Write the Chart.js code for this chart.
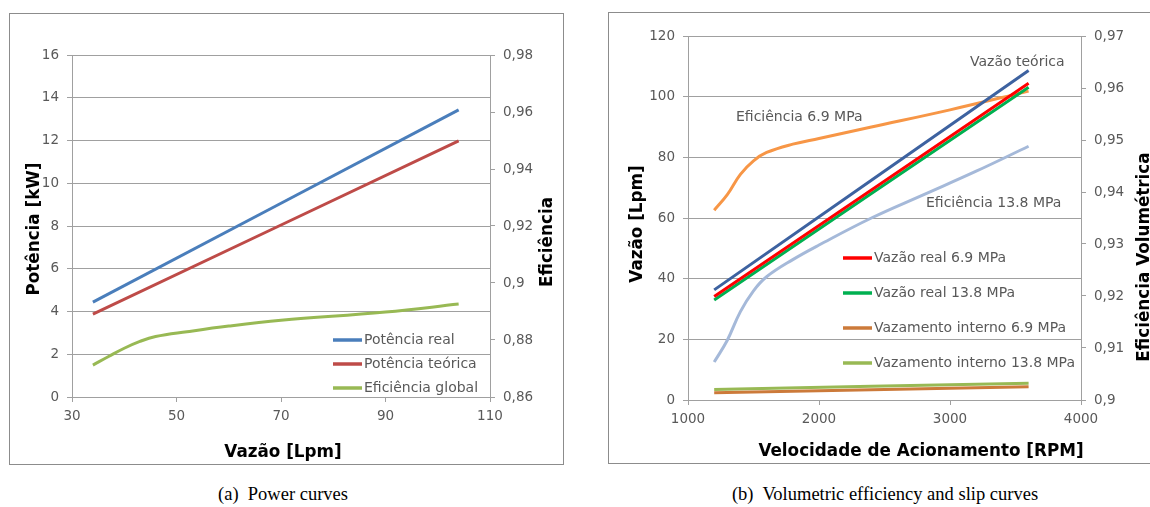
<!DOCTYPE html>
<html>
<head>
<meta charset="utf-8">
<script src="https://cdn.jsdelivr.net/npm/chart.js@4.4.0/dist/chart.umd.min.js"></script>
<style>
  body { margin: 0; width: 1150px; height: 507px; overflow: hidden; background: #fff; position: relative; }
  .box { position: absolute; border: 1px solid #8c8c8c; }
  canvas { position: absolute; }
  .cap { position: absolute; top: 484px; font-family: "Liberation Serif", serif; font-size: 18.5px; color: #000; white-space: nowrap; transform: translateX(-50%); }
</style>
</head>
<body>
<div class="box" style="left:9px;top:13px;width:553px;height:450px"></div>
<div class="box" style="left:608px;top:12px;width:600px;height:450px"></div>
<canvas id="ca" width="575" height="470" style="left:0;top:0"></canvas>
<canvas id="cb" width="570" height="470" style="left:580px;top:0"></canvas>
<div class="cap" style="left:283px">(a)&nbsp; Power curves</div>
<div class="cap" style="left:885px">(b)&nbsp; Volumetric efficiency and slip curves</div>
<script>
// ---- chart (a): power curves ----
const flowA = [34, 104];
const potReal = [4.44, 13.43];
const potTeorica = [3.88, 11.98];
const flowEff = [34, 37, 40, 43, 46, 52, 60, 70, 90, 104];
const efGlobal = [0.8712, 0.8742, 0.8771, 0.8795, 0.8812, 0.8829, 0.8849, 0.8869, 0.8898, 0.8926];
const xTicksA = [30, 50, 70, 90, 110];
const yTicksA = [0, 2, 4, 6, 8, 10, 12, 14, 16];
const y2TicksA = [0.86, 0.88, 0.9, 0.92, 0.94, 0.96, 0.98];

// ---- chart (b): volumetric efficiency and slip ----
const rpmLine = [1200, 3600];
const vazTeorica = [36.3, 108.6];
const vazReal69 = [34.1, 104.4];
const vazReal138 = [33.0, 103.1];
const vazInt69 = [2.4, 4.4];
const vazInt138 = [3.5, 5.5];
const rpmEf69 = [1200, 1300, 1400, 1500, 1600, 1800, 2000, 2400, 3000, 3600];
const ef69 = [0.9365, 0.9395, 0.9434, 0.9460, 0.9476, 0.9492, 0.9503, 0.9525, 0.9558, 0.9594];
const rpmEf138 = [1200, 1300, 1400, 1500, 1600, 1800, 2000, 2400, 2800, 3200, 3600];
const ef138 = [0.9073, 0.9115, 0.9170, 0.9210, 0.9237, 0.9270, 0.9298, 0.9350, 0.9395, 0.9440, 0.9488];
const xTicksB = [1000, 2000, 3000, 4000];
const yTicksB = [0, 20, 40, 60, 80, 100, 120];
const y2TicksB = [0.9, 0.91, 0.92, 0.93, 0.94, 0.95, 0.96, 0.97];

const pts = (xs, ys) => xs.map((x, i) => ({ x: x, y: ys[i] }));
const comma = v => parseFloat(v.toFixed(2)).toString().replace('.', ',');
const plain = v => String(v);

const tickFont = { family: 'DejaVu Sans', size: 13.5 };
const tickColor = '#595959';
const gridColor = '#a0a0a0';

function fixed(size, prop) {
  return function (scale) { scale[prop] = size; };
}
function useTicks(arr) {
  return function (scale) { scale.ticks = arr.map(v => ({ value: v })); };
}

// draws axis titles, in-plot legend entries and free text labels
const overlay = {
  id: 'overlay',
  afterDraw(chart, args, opts) {
    const ctx = chart.ctx;
    ctx.save();
    ctx.textBaseline = 'middle';
    (opts.titles || []).forEach(t => {
      ctx.save();
      ctx.translate(t.x, t.y);
      if (t.rot) ctx.rotate(-Math.PI / 2);
      ctx.font = 'bold 16.8px "DejaVu Sans"';
      ctx.fillStyle = '#000';
      ctx.textAlign = 'center';
      ctx.fillText(t.text, 0, 0);
      ctx.restore();
    });
    ctx.font = '14px "DejaVu Sans"';
    ctx.fillStyle = tickColor;
    ctx.textAlign = 'left';
    (opts.legend || []).forEach(l => {
      const ds = chart.data.datasets[l.ds];
      ctx.strokeStyle = ds.borderColor;
      ctx.lineWidth = 3.5;
      ctx.beginPath();
      ctx.moveTo(l.x, l.y);
      ctx.lineTo(l.x + 29, l.y);
      ctx.stroke();
      ctx.fillText(ds.label, l.x + 31, l.y);
    });
    (opts.labels || []).forEach(l => {
      ctx.fillText(l.text, l.x, l.y);
    });
    ctx.restore();
  }
};

const lineDs = (label, data, color, axis) => ({
  label: label, data: data, borderColor: color, backgroundColor: color,
  borderWidth: 3, pointRadius: 0, yAxisID: axis || 'y', tension: 0.4
});

new Chart(document.getElementById('ca'), {
  type: 'line',
  data: {
    datasets: [
      lineDs('Potência real', pts(flowA, potReal), '#4a7ebb'),
      lineDs('Potência teórica', pts(flowA, potTeorica), '#be4b48'),
      lineDs('Eficiência global', pts(flowEff, efGlobal), '#98b954', 'y1')
    ]
  },
  options: {
    responsive: false, animation: false,
    layout: { padding: { top: 55, left: 0, right: 0, bottom: 0 } },
    plugins: {
      legend: { display: false }, tooltip: { enabled: false },
      overlay: {
        titles: [
          { text: 'Potência [kW]', x: 35, y: 229, rot: true },
          { text: 'Eficiência', x: 548, y: 242, rot: true },
          { text: 'Vazão [Lpm]', x: 283, y: 453 }
        ],
        legend: [
          { ds: 0, x: 333, y: 340 },
          { ds: 1, x: 333, y: 364 },
          { ds: 2, x: 333, y: 388 }
        ]
      }
    },
    scales: {
      x: {
        type: 'linear', min: 30, max: 110,
        afterFit: fixed(73, 'height'), afterBuildTicks: useTicks(xTicksA),
        grid: { drawOnChartArea: false, color: gridColor, tickLength: 5 },
        border: { color: gridColor },
        ticks: { font: tickFont, color: tickColor, padding: 6, maxRotation: 0, callback: plain }
      },
      y: {
        position: 'left', min: 0, max: 16,
        afterFit: fixed(72, 'width'), afterBuildTicks: useTicks(yTicksA),
        grid: { color: gridColor, tickLength: 5 },
        border: { color: gridColor },
        ticks: { font: tickFont, color: tickColor, padding: 8, callback: plain }
      },
      y1: {
        position: 'right', min: 0.86, max: 0.98,
        afterFit: fixed(85, 'width'), afterBuildTicks: useTicks(y2TicksA),
        grid: { drawOnChartArea: false, color: gridColor, tickLength: 5 },
        border: { color: gridColor },
        ticks: { font: tickFont, color: tickColor, padding: 8, callback: comma }
      }
    }
  },
  plugins: [overlay]
});

new Chart(document.getElementById('cb'), {
  type: 'line',
  data: {
    datasets: [
      lineDs('Vazão real 6.9 MPa', pts(rpmLine, vazReal69), '#ff0000'),
      lineDs('Vazão real 13.8 MPa', pts(rpmLine, vazReal138), '#00b050'),
      lineDs('Vazamento interno 6.9 MPa', pts(rpmLine, vazInt69), '#cc7a3a'),
      lineDs('Vazamento interno 13.8 MPa', pts(rpmLine, vazInt138), '#98b954'),
      lineDs('Vazão teórica', pts(rpmLine, vazTeorica), '#3d62a0'),
      lineDs('Eficiência 6.9 MPa', pts(rpmEf69, ef69), '#f79646', 'y1'),
      lineDs('Eficiência 13.8 MPa', pts(rpmEf138, ef138), '#a5b9d9', 'y1')
    ]
  },
  options: {
    responsive: false, animation: false,
    layout: { padding: { top: 36, left: 0, right: 0, bottom: 0 } },
    plugins: {
      legend: { display: false }, tooltip: { enabled: false },
      overlay: {
        titles: [
          { text: 'Vazão [Lpm]', x: 58, y: 224, rot: true },
          { text: 'Eficiência Volumétrica', x: 565, y: 257, rot: true },
          { text: 'Velocidade de Acionamento [RPM]', x: 341, y: 452 }
        ],
        legend: [
          { ds: 0, x: 263, y: 258 },
          { ds: 1, x: 263, y: 293 },
          { ds: 2, x: 263, y: 328 },
          { ds: 3, x: 263, y: 363 }
        ],
        labels: [
          { text: 'Vazão teórica', x: 390, y: 62 },
          { text: 'Eficiência 6.9 MPa', x: 156, y: 117 },
          { text: 'Eficiência 13.8 MPa', x: 346, y: 203 }
        ]
      }
    },
    scales: {
      x: {
        type: 'linear', min: 1000, max: 4000,
        afterFit: fixed(70, 'height'), afterBuildTicks: useTicks(xTicksB),
        grid: { drawOnChartArea: false, color: gridColor, tickLength: 5 },
        border: { color: gridColor },
        ticks: { font: tickFont, color: tickColor, padding: 6, maxRotation: 0, callback: plain }
      },
      y: {
        position: 'left', min: 0, max: 120,
        afterFit: fixed(108, 'width'), afterBuildTicks: useTicks(yTicksB),
        grid: { color: gridColor, tickLength: 5 },
        border: { color: gridColor },
        ticks: { font: tickFont, color: tickColor, padding: 8, callback: plain }
      },
      y1: {
        position: 'right', min: 0.9, max: 0.97,
        afterFit: fixed(69, 'width'), afterBuildTicks: useTicks(y2TicksB),
        grid: { drawOnChartArea: false, color: gridColor, tickLength: 5 },
        border: { color: gridColor },
        ticks: { font: tickFont, color: tickColor, padding: 8, callback: comma }
      }
    }
  },
  plugins: [overlay]
});
</script>
</body>
</html>
